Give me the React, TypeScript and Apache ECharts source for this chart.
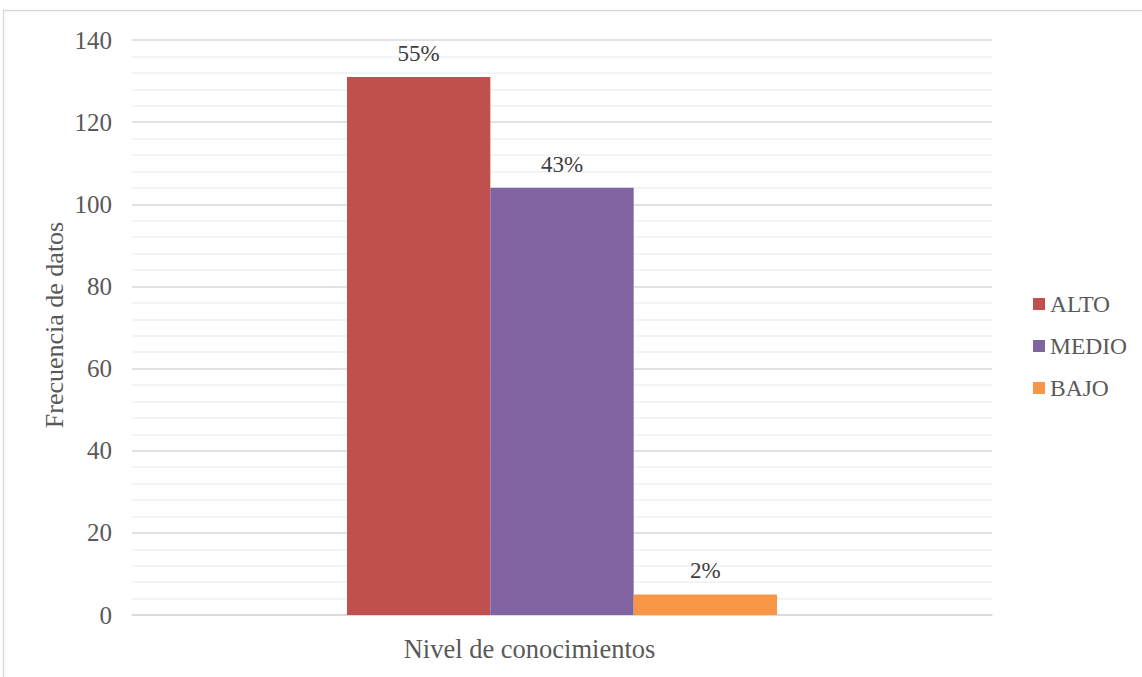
import React, { useEffect, useRef } from "react";
import * as echarts from "echarts";

const categories = ["Nivel de conocimientos"];
const seriesNames = ["ALTO", "MEDIO", "BAJO"];
const seriesValues = [[131], [104], [5]];
const seriesLabels = ["55%", "43%", "2%"];
const seriesColors = ["#C0504D", "#8064A2", "#F79646"];
const yAxisTitle = "Frecuencia de datos";

const FONT = "'Liberation Serif', 'Times New Roman', serif";

export default function App() {
  const ref = useRef<HTMLDivElement>(null);
  useEffect(() => {
    document.body.style.margin = "0";
    const chart = echarts.init(ref.current!, null, { renderer: "svg" });
    chart.setOption({
      animation: false,
      backgroundColor: "#ffffff",
      textStyle: { fontFamily: FONT },
      grid: { left: 132, right: 150, top: 40, bottom: 62 },
      legend: {
        orient: "vertical",
        left: 1033,
        top: 292,
        padding: 0,
        itemWidth: 12,
        itemHeight: 12,
        itemGap: 18,
        icon: "rect",
        textStyle: { fontFamily: FONT, fontSize: 23.5, color: "#595959", lineHeight: 24 },
        data: seriesNames,
      },
      xAxis: {
        type: "category",
        data: categories,
        axisTick: { show: false },
        axisLine: { show: true, lineStyle: { color: "#d9d9d9", width: 1.5 } },
        axisLabel: {
          fontFamily: FONT,
          fontSize: 26.5,
          color: "#595959",
          margin: 20,
          padding: [0, 65, 0, 0],
        },
      },
      yAxis: {
        type: "value",
        min: 0,
        max: 140,
        interval: 20,
        axisLine: { show: false },
        axisTick: { show: false },
        axisLabel: { fontFamily: FONT, fontSize: 25, color: "#595959", margin: 20 },
        splitLine: { lineStyle: { color: "#d9d9d9", width: 1.5 } },
        minorTick: { show: false, splitNumber: 5 },
        minorSplitLine: { show: true, lineStyle: { color: "#f0f0f0", width: 1.5 } },
      },
      graphic: [
        {
          type: "rect",
          shape: { x: 3.5, y: 10.5, width: 1160, height: 700 },
          style: { fill: "none", stroke: "#d9d9d9", lineWidth: 1.5 },
          silent: true,
        },
        {
          type: "text",
          x: 54,
          y: 325,
          rotation: Math.PI / 2,
          style: {
            text: yAxisTitle,
            fontFamily: FONT,
            fontSize: 26,
            fill: "#595959",
            align: "center",
            verticalAlign: "middle",
          },
        },
      ],
      series: seriesNames.map((name, i) => ({
        name,
        type: "bar",
        data: seriesValues[i],
        barGap: "0%",
        barCategoryGap: "50%",
        itemStyle: { color: seriesColors[i] },
        label: {
          show: true,
          position: "top",
          distance: 12,
          formatter: () => seriesLabels[i],
          fontFamily: FONT,
          fontSize: 23,
          color: "#404040",
        },
      })),
    });
    return () => chart.dispose();
  }, []);
  return <div ref={ref} style={{ width: 1142, height: 677 }} />;
}
